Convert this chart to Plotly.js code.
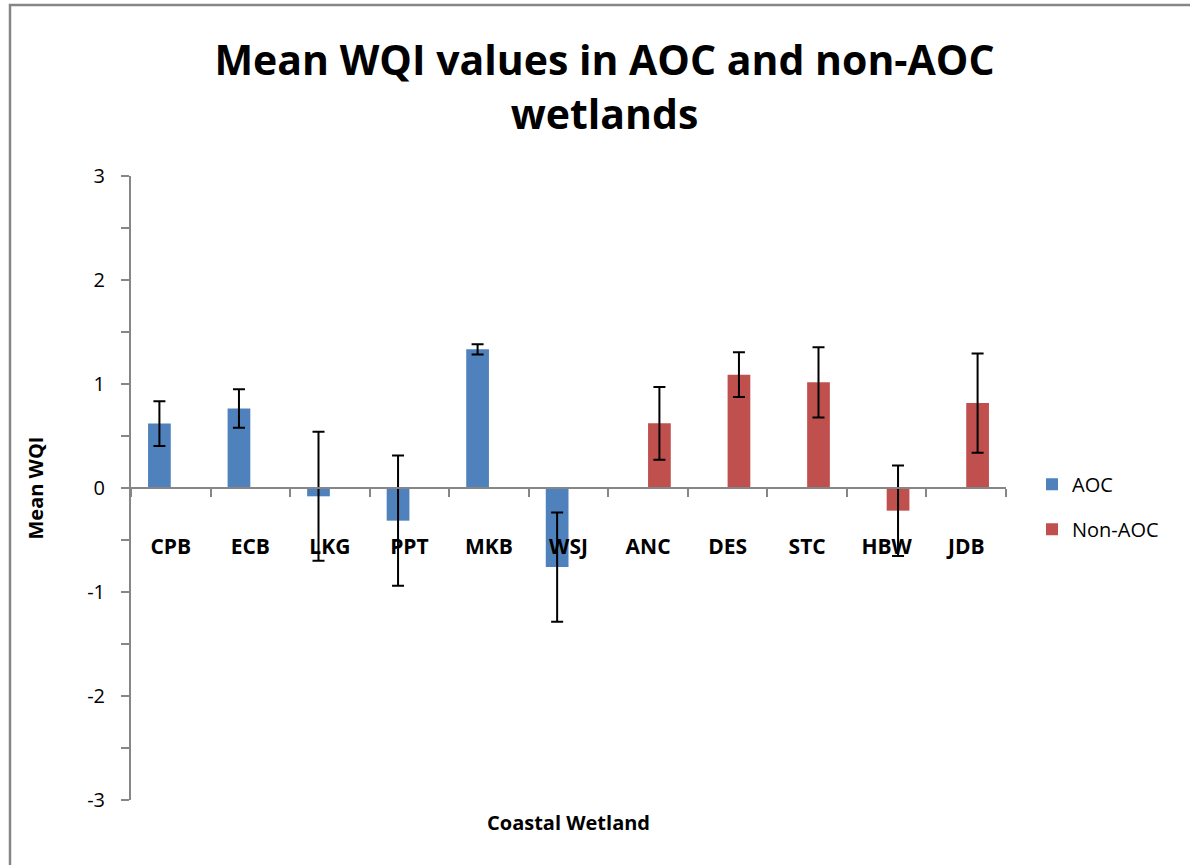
<!DOCTYPE html>
<html>
<head>
<meta charset="utf-8">
<script src="https://cdn.plot.ly/plotly-3.0.1.min.js"></script>
<style>
html,body{margin:0;padding:0;background:#fff;overflow:hidden;}
#chart{width:1190px;height:865px;}
</style>
</head>
<body>
<div id="chart"></div>
<script>
const categories = ["CPB","ECB","LKG","PPT","MKB","WSJ","ANC","DES","STC","HBW","JDB"];
const aocSites = ["CPB","ECB","LKG","PPT","MKB","WSJ"];
const aocMeans = [0.62, 0.765, -0.08, -0.314, 1.333, -0.76];
const aocErrors = [0.215, 0.185, 0.62, 0.627, 0.05, 0.525];
const nonAocSites = ["ANC","DES","STC","HBW","JDB"];
const nonAocMeans = [0.622, 1.09, 1.016, -0.218, 0.817];
const nonAocErrors = [0.35, 0.215, 0.337, 0.435, 0.477];
const yTickValues = [-3,-2,-1,0,1,2,3];
const yTickLabels = ["-3","-2","-1","0","1","2","3"];

const font = "Open Sans, Lato, Liberation Sans, sans-serif";
const errStyle = {type:'data', symmetric:true, color:'#000', thickness:2, width:6};

const traces = [
  {type:'bar', name:'AOC', x:aocSites, y:aocMeans, marker:{color:'#4F81BD'}, offsetgroup:'1',
   error_y:Object.assign({array:aocErrors}, errStyle), legendgroup:'a'},
  {type:'bar', name:'Non-AOC', x:nonAocSites, y:nonAocMeans, marker:{color:'#C0504D'}, offsetgroup:'2',
   error_y:Object.assign({array:nonAocErrors}, errStyle), legendgroup:'b'}
];

const layout = {
  width:1190, height:865,
  margin:{l:131, r:184, t:176, b:65},
  paper_bgcolor:'#fff', plot_bgcolor:'#fff',
  barmode:'group', bargap:0.4286, bargroupgap:0,
  font:{family:font, color:'#000', size:20},
  title:{text:'<b>Mean WQI values in AOC and non-AOC<br>wetlands</b>', x:0.508, xanchor:'center',
         y:0.913, yanchor:'middle', font:{size:41, family:font}},
  xaxis:{categoryorder:'array', categoryarray:categories, range:[-0.5,10.5],
         anchor:'free', position:0.5, showline:true, linecolor:'#868686', linewidth:2,
         ticks:'outside', ticklen:8, tickwidth:2, tickcolor:'#868686', tickson:'boundaries',
         ticklabelstandoff:40, tickfont:{size:21, family:font},
         tickprefix:'<b>', ticksuffix:'</b>',
         showgrid:false, zeroline:false, fixedrange:true},
  yaxis:{range:[-3,3], tickvals:yTickValues, ticktext:yTickLabels, showline:true, linecolor:'#868686', linewidth:2,
         ticks:'outside', ticklen:8, tickwidth:2, tickcolor:'#868686',
         minor:{dtick:0.5, tick0:0, ticks:'outside', ticklen:8, tickwidth:2, tickcolor:'#868686', showgrid:false},
         ticklabelstandoff:12, tickfont:{size:20, family:font},
         showgrid:false, zeroline:false,
         title:{text:'<b>Mean WQI</b>', font:{size:20, family:font}, standoff:38}},
  annotations:[{text:'<b>Coastal Wetland</b>', xref:'paper', yref:'paper', x:0.5, y:(800-822)/624,
                xanchor:'center', yanchor:'middle', showarrow:false, font:{size:20, family:font}}],
  legend:{x:(1032-131)/875, xanchor:'left', y:0.47, yanchor:'middle', font:{size:20, family:font},
          itemwidth:30, traceorder:'grouped', tracegroupgap:16, bgcolor:'rgba(0,0,0,0)'},
  showlegend:true,
  shapes:[{type:'rect', xref:'paper', yref:'paper',
           x0:(10-131)/875, x1:(1300-131)/875, y0:(800-1000)/624, y1:(800-5)/624,
           line:{color:'#868686', width:2.5}, fillcolor:'rgba(0,0,0,0)', layer:'below'}]
};

Plotly.newPlot('chart', traces, layout, {displayModeBar:false, staticPlot:true});
</script>
</body>
</html>
